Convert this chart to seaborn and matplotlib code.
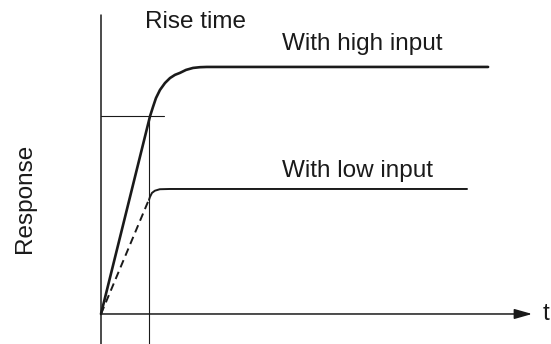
import pandas as pd
import matplotlib
matplotlib.use('Agg')
import matplotlib.pyplot as plt
import seaborn as sns

# Dados (tempo em unidades de "rise time", resposta normalizada pelo patamar alto)
high_t = [0, 1.0, 1.061, 1.122, 1.204, 1.306, 1.408, 1.510, 1.612, 1.735, 1.878, 2.02, 2.16, 7.90]
high_r = [0, 0.80, 0.838, 0.874, 0.907, 0.935, 0.955, 0.968, 0.976, 0.988, 0.996, 0.999, 1.0, 1.0]

low_dash_t = [0, 0.965]
low_dash_r = [0, 0.457]

low_t = [0.98, 1.0, 1.04, 1.10, 1.20, 1.40, 7.47]
low_r = [0.462, 0.474, 0.49, 0.499, 0.505, 0.506, 0.506]

rise_time = 0.99
rise_level = 0.80

# Tema
sns.set_theme(style='white')
plt.rcParams['font.family'] = ['Liberation Sans', 'DejaVu Sans']

fig = plt.figure(figsize=(5.51, 3.44), dpi=100)
ax = fig.add_axes([0, 0, 1, 1])
ax.set_xlim(-2.061, 9.184)
ax.set_ylim(-0.1215, 1.271)
ax.axis('off')

ink = '#1a1a1a'

# Eixos
ax.plot([0, 0], [-0.1215, 1.21], color=ink, lw=1.1)
ax.annotate('', xy=(8.80, 0), xytext=(0, 0),
            arrowprops=dict(arrowstyle='-|>,head_length=0.6,head_width=0.17',
                            mutation_scale=18, color=ink, lw=1.1,
                            shrinkA=0, shrinkB=0))

# Linhas do rise time
ax.plot([0, 1.29], [rise_level, rise_level], color=ink, lw=0.8)
ax.plot([rise_time, rise_time], [-0.1215, rise_level], color=ink, lw=0.8)

# Curvas
df_high = pd.DataFrame({'t': high_t, 'r': high_r})
df_low = pd.DataFrame({'t': low_t, 'r': low_r})
df_dash = pd.DataFrame({'t': low_dash_t, 'r': low_dash_r})

sns.lineplot(data=df_high, x='t', y='r', ax=ax, color=ink, lw=1.9, estimator=None,
             solid_joinstyle='round', solid_capstyle='round')
sns.lineplot(data=df_low, x='t', y='r', ax=ax, color=ink, lw=1.4, estimator=None,
             solid_joinstyle='round')
sns.lineplot(data=df_dash, x='t', y='r', ax=ax, color=ink, lw=1.4,
             linestyle=(0, (4, 2.5)), estimator=None)

# Textos
fs = 17.5
ax.text(0.90, 1.158, 'Rise time', fontsize=fs, ha='left', va='baseline', color=ink)
ax.text(3.69, 1.069, 'With high input', fontsize=fs, ha='left', va='baseline', color=ink)
ax.text(3.69, 0.555, 'With low input', fontsize=fs, ha='left', va='baseline', color=ink)
ax.text(-1.55, 0.47, 'Response', fontsize=fs, rotation=90, ha='center', va='center', color=ink)
ax.text(9.08, 0.0, 't', fontsize=fs, ha='center', va='center', color=ink)

plt.savefig('out.png', dpi=100)
